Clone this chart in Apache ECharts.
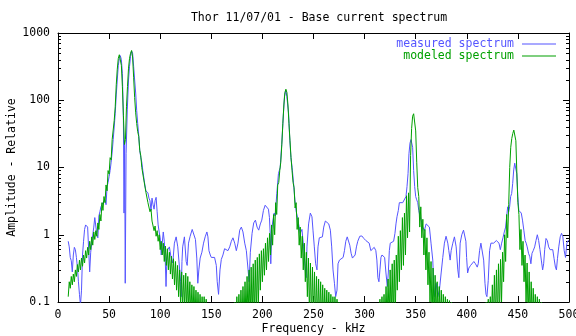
<!DOCTYPE html>
<html>
<head>
<meta charset="utf-8">
<title>Thor 11/07/01 - Base current spectrum</title>
<script src="https://cdn.jsdelivr.net/npm/echarts@6/dist/echarts.min.js"></script>
<style>
  html, body { margin: 0; padding: 0; background: #fff; }
  #chart { width: 576px; height: 336px; }
</style>
</head>
<body>
<div id="chart"></div>
<script>
// amplitude axis ticks (log scale)
const yTicks = [0.1, 1, 10, 100, 1000]
const yMinorTicks = [
  0.2, 0.3, 0.4, 0.5, 0.6, 0.7, 0.8, 0.9,
  2, 3, 4, 5, 6, 7, 8, 9,
  20, 30, 40, 50, 60, 70, 80, 90,
  200, 300, 400, 500, 600, 700, 800, 900
]

// measured spectrum, [kHz, amplitude]
const measured = [
  [10,0.8],[11,0.66],[12,0.46],[13,0.41],[14,0.28],[15,0.5],[16,0.65],[17,0.6],[18,0.46],[19,0.33],
  [20,0.2],[21,0.13],[22,0.09],[23,0.15],[24,0.5],[25,0.8],[26,1.2],[27,1.4],[28,1.4],[29,1.3],
  [30,0.6],[31,0.28],[32,0.55],[33,0.75],[34,0.8],[35,1.3],[36,1.8],[37,1.7],[38,1.0],[39,0.9],
  [40,1.9],[41,2.2],[42,2.6],[43,2.8],[44,3.0],[45,3.1],[46,3.3],[47,2.8],[48,5.2],[49,6],
  [50,7.3],[51,9],[52,12],[53,17],[54,26],[55,40],[56,64],[57,120],[58,200],[59,330],
  [60,420],[61,460],[62,400],[63,250],[64,50],[64.6,2.1],[65.2,25],[65.8,0.19],[66.6,16],[67.8,72],
  [69,200],[70,320],[71,450],[72,540],[73,500],[74,320],[75,200],[76,128],[77,70],[78,45],
  [79,30],[80,18],[81,14],[82,12],[83,9],[84,7],[85,5.5],[86,4.5],[87,4.8],[88,4.2],
  [89,3.5],[90,3.2],[91,2.3],[92,3.5],[93,2.8],[94,2.4],[95,3.2],[96,3.6],[97,2.2],[98,1.4],
  [99,1.1],[100,0.9],[101,0.5],[102,0.75],[103,1.1],[104,0.8],[105,0.4],[105.7,0.17],[106.5,0.4],[107.4,0.6],
  [109,0.66],[110.6,0.46],[112.3,0.38],[113.9,0.75],[115.6,0.93],[117.2,0.66],[118.8,0.63],[120,0.2],[120.5,0.12],[121.3,0.4],
  [122,0.66],[123.7,0.93],[125.4,0.4],[126.4,0.35],[127.7,0.75],[129.3,0.95],[131.3,1.2],[132.9,1.25],[134.5,0.85],[135.8,0.45],
  [136.8,0.19],[137.8,0.3],[139.1,0.45],[140.8,0.55],[142.4,0.75],[144,0.93],[145.7,1.1],[146.7,0.93],[147.7,0.58],[149,0.5],
  [150,0.46],[151.6,0.48],[153.2,0.46],[154.9,0.35],[155.8,0.2],[157.1,0.13],[158.5,0.3],[159.8,0.43],[161.4,0.5],[163,0.62],
  [164.7,0.6],[166.3,0.58],[168,0.66],[169.6,0.8],[171.2,0.9],[172.9,0.75],[174.5,0.58],[176.1,0.75],[177.8,1.17],[179.4,1.3],
  [181,1.1],[182.7,0.75],[184.3,0.58],[186,0.3],[187,0.2],[188.2,0.55],[189.9,1.05],[191.5,1.5],[193.2,1.65],[194.8,1.3],
  [196.4,1.17],[198,1.45],[199.4,1.65],[201,2.3],[202.7,2.75],[204.3,2.8],[205.9,2.4],[206.9,1.8],[207.6,1.05],[208.2,0.37],
  [209.2,1.2],[210.2,1.6],[211.5,2.1],[212.5,1.9],[214.1,4.1],[215.7,8.1],[217.4,10],[219,23],[220.6,64],[221.6,114],
  [222.9,140],[223.9,114],[225.6,64],[226.5,32],[227.9,14],[229.1,10],[230.5,5.8],[231.8,3.3],[233.1,2.2],[234.4,1.8],
  [235.4,1.45],[237,1.05],[238.7,1.2],[240.3,0.66],[242,0.3],[242.9,0.23],[243.6,0.66],[245.2,1.45],[246.9,2.1],[248.5,1.85],
  [249.5,1.17],[250.8,0.66],[252.1,0.37],[253.4,0.3],[254.4,0.66],[255.7,0.9],[257.3,0.85],[258.7,0.93],[260,1.3],[261.6,1.6],
  [263.2,1.6],[264.9,1.45],[266.5,1.17],[267.8,0.66],[269.1,0.3],[270.5,0.19],[271.7,0.12],[273,0.15],[274,0.37],[275.4,0.42],
  [277,0.44],[279,0.46],[280.3,0.58],[281.6,0.8],[283,0.93],[284.2,0.9],[285.5,0.7],[286.8,0.53],[288.1,0.45],[289.4,0.45],
  [290.7,0.5],[292,0.66],[293.3,0.8],[295.3,0.95],[297.3,0.96],[299.3,0.88],[301.2,0.82],[302.9,0.85],[304.5,0.75],[306.1,0.58],
  [307.8,0.55],[309.4,0.65],[311,0.58],[312,0.42],[313,0.23],[314,0.2],[315,0.3],[316,0.46],[317,0.5],[318.3,0.53],
  [319.6,0.46],[320.9,0.27],[322.2,0.17],[323.2,0.27],[324.2,0.58],[325.1,0.75],[326.8,0.75],[328.4,0.8],[329.7,1.05],[330.7,1.45],
  [331.7,1.85],[333,2.3],[334,3.0],[335.6,3.0],[337.3,3.0],[338.9,3.1],[340.5,3.7],[341.5,5.2],[342.5,8.1],[343.4,16],
  [344.4,23],[345.4,26],[346.4,26],[347,20],[348,9],[349,5.2],[350,3.7],[351,3.3],[352,3.0],[353,2.3],
  [354.3,1.85],[355.6,1.6],[356.9,1.3],[358.5,1.15],[360.2,1.45],[361.8,1.5],[363.4,1.3],[365,0.75],[366.7,0.42],[367.6,0.19],
  [368.6,0.12],[370,0.19],[371.6,0.12],[373.2,0.15],[374.9,0.27],[376.5,0.46],[378.1,0.75],[379.7,0.95],[381.4,0.75],[382.4,0.58],
  [383.7,0.42],[384.7,0.58],[386.3,0.75],[387.9,0.93],[389.6,0.66],[391.2,0.3],[392.2,0.23],[393.5,0.75],[395.1,1.0],[396.8,1.17],
  [398.1,1.1],[399.1,0.8],[399.8,0.46],[400.8,0.27],[402,0.32],[403.7,0.35],[405.3,0.37],[406.9,0.4],[408.5,0.37],[410.2,0.33],
  [411.2,0.37],[412.5,0.58],[413.8,0.75],[415.1,0.75],[416.5,0.42],[417.8,0.19],[418.8,0.13],[419.7,0.12],[421,0.21],[422.3,0.58],
  [423.6,0.75],[424.9,0.72],[426.3,0.75],[427.6,0.8],[428.9,0.82],[430.2,0.82],[431.5,0.75],[432.8,0.6],[434.1,0.75],[435.4,0.9],
  [436.7,1.1],[438,1.3],[439,1.85],[440,2.6],[441,2.2],[441.9,2.6],[442.9,3.7],[443.9,4.1],[444.9,5.8],[445.9,9.2],
  [446.9,11.6],[447.9,11],[448.9,8.1],[449.9,3.7],[450.9,2.3],[451.9,2.2],[453.3,2.1],[454.5,1.65],[455.8,1.17],[457.1,0.82],
  [458.1,0.75],[459.1,0.66],[460.4,0.53],[461.7,0.47],[462.7,0.37],[463.8,0.53],[465,0.58],[466.4,0.66],[467.7,0.82],[469,1.0],
  [470.3,0.82],[471.6,0.6],[472.9,0.42],[474.2,0.3],[475.2,0.37],[476.2,0.6],[477.5,0.88],[478.8,0.82],[480.1,0.66],[481.5,0.6],
  [482.8,0.62],[484.1,0.6],[485.4,0.44],[486.7,0.33],[487.7,0.3],[488.7,0.44],[490,0.66],[491.4,0.93],[492.7,1.05],[494,0.93],
  [495.3,0.58],[496.6,0.46],[497.9,0.75],[499.2,0.82],[500,0.82]
]

// modeled spectrum, one block per resonance; 0.05 = below the plot floor
const modeledLow = [
  [10,0.12],[11,0.2],[12,0.16],[13,0.24],[14,0.18],[15,0.26],[16,0.2],[17,0.3],[18,0.24],[19,0.36],
  [20,0.28],[21,0.42],[22,0.3],[23,0.45],[24,0.34],[25,0.5],[26,0.38],[27,0.58],[28,0.45],[29,0.65],
  [30,0.5],[31,0.8],[32,0.6],[33,0.93],[34,0.7],[35,1.1],[36,0.85],[37,1.15],[38,0.95],[39,1.5],
  [40,1.2],[41,2.0],[42,1.6],[43,3.0],[44,2.3],[45,3.7],[46,3.0],[47,5.5],[48,4.5],[49,9],
  [50,8],[51,14],[52,13],[53,26],[54,26],[55,50],[56,80],[57,170],[58,290],[59,420],
  [60,475],[61,460],[62,330],[63,160],[64,60],[65,22],[66,26],[67,80],[68,160],[69,300],
  [70,420],[71,500],[72,550],[73,440],[74,220],[75,110],[76,65],[77,45],[78,34],[79,29],
  [80,18],[81,15],[82,10],[83,9.5],[84,6.5],[85,6.5],[86,4.3],[87,4.5],[88,3.0],[89,3.2],
  [90,2.2],[91,2.4],[92,1.6],[93,1.7],[94,1.15],[95,1.35],[96,0.95],[97,1.15],[98,0.8],[99,1.0],
  [100,0.6],[101,0.8],[102,0.5],[103,0.75],[104,0.4],[105,0.68],[106,0.35],[107,0.62],[108,0.3],[109,0.55],
  [110,0.26],[111,0.48],[112,0.22],[113,0.44],[114,0.18],[115,0.4],[116,0.15],[117,0.35],[118,0.12],[119,0.3],
  [120,0.09],[121,0.28],[122,0.08],[123,0.25],[124,0.08],[125,0.27],[126,0.07],[127,0.24],[128,0.07],[129,0.2],
  [130,0.06],[131,0.18],[132,0.06],[133,0.17],[134,0.06],[135,0.15],[136,0.06],[137,0.14],[138,0.06],[139,0.13],
  [140,0.06],[141,0.12],[142,0.06],[143,0.12],[144,0.06],[145,0.11],[146,0.05]
]
const modeled222 = [
  [172,0.05],[173,0.1],[174,0.05],[175,0.12],[176,0.05],[177,0.13],[178,0.05],[179,0.15],[180,0.05],[181,0.17],
  [182,0.05],[183,0.2],[184,0.05],[185,0.24],[186,0.05],[187,0.3],[188,0.05],[189,0.33],[190,0.05],[191,0.37],
  [192,0.05],[193,0.42],[194,0.06],[195,0.46],[196,0.08],[197,0.52],[198,0.15],[199,0.58],[200,0.2],[201,0.62],
  [202,0.25],[203,0.75],[204,0.3],[205,0.9],[206,0.4],[207,1.05],[208,0.5],[209,1.4],[210,0.7],[211,2.0],
  [212,1.0],[213,3.0],[214,2.0],[215,5.5],[216,6],[217,9],[218,12],[219,22],[220,45],[221,85],
  [222,130],[223,146],[224,130],[225,85],[226,45],[227,25],[228,14],[229,9],[230,6],[231,5],
  [232,2.5],[233,3],[234,1.2],[235,1.8],[236,0.7],[237,1.3],[238,0.45],[239,0.95],[240,0.3],[241,0.75],
  [242,0.2],[243,0.55],[244,0.12],[245,0.45],[246,0.07],[247,0.38],[248,0.05],[249,0.33],[250,0.05],[251,0.28],
  [252,0.05],[253,0.24],[254,0.05],[255,0.22],[256,0.05],[257,0.2],[258,0.05],[259,0.18],[260,0.05],[261,0.16],
  [262,0.05],[263,0.15],[264,0.05],[265,0.14],[266,0.05],[267,0.13],[268,0.05],[269,0.12],[270,0.05],[271,0.12],
  [272,0.05],[273,0.11],[274,0.05],[275,0.1],[276,0.05]
]
const modeled347 = [
  [313,0.05],[314,0.05],[315,0.11],[316,0.05],[317,0.12],[318,0.05],[319,0.13],[320,0.05],[321,0.17],[322,0.05],
  [323,0.22],[324,0.05],[325,0.3],[326,0.05],[327,0.37],[328,0.05],[329,0.42],[330,0.06],[331,0.5],[332,0.15],
  [333,0.95],[334,0.2],[335,1.15],[336,0.3],[337,1.8],[338,0.35],[339,2.1],[340,0.5],[341,3.8],[342,0.9],
  [343,4.2],[344,1.1],[345,15],[346,38],[347,58],[348,63],[349,60],[350,35],[351,12],[352,5],
  [353,3.7],[354,1.3],[355,2.6],[356,0.9],[357,1.7],[358,0.5],[359,1.2],[360,0.3],[361,0.9],[362,0.18],
  [363,0.55],[364,0.1],[365,0.4],[366,0.05],[367,0.32],[368,0.05],[369,0.25],[370,0.05],[371,0.2],[372,0.05],
  [373,0.17],[374,0.05],[375,0.15],[376,0.05],[377,0.13],[378,0.05],[379,0.12],[380,0.05],[381,0.11],[382,0.05],
  [383,0.105],[384,0.05],[385,0.1],[386,0.05]
]
const modeled446 = [
  [418,0.05],[419,0.1],[420,0.05],[421,0.11],[422,0.05],[423,0.12],[424,0.05],[425,0.18],[426,0.05],[427,0.25],
  [428,0.05],[429,0.3],[430,0.05],[431,0.37],[432,0.06],[433,0.43],[434,0.1],[435,0.55],[436,0.2],[437,1.0],
  [438,0.4],[439,2.0],[440,0.9],[441,2.8],[442,10],[443,20],[444,27],[445,32],[446,36],[447,36],
  [448,25],[449,8],[450,3],[451,2.0],[452,0.6],[453,1.2],[454,0.35],[455,0.8],[456,0.2],[457,0.5],
  [458,0.1],[459,0.38],[460,0.05],[461,0.28],[462,0.05],[463,0.2],[464,0.05],[465,0.16],[466,0.05],[467,0.13],
  [468,0.05],[469,0.12],[470,0.05],[471,0.11],[472,0.05],[473,0.1],[474,0.05]
]

const BLUE = '#5555ff'
const GREEN = '#00a000'
const FONT = 'DejaVu Sans Mono'

const chart = echarts.init(document.getElementById('chart'), null, { renderer: 'canvas' })

const logAxis = (extra) => Object.assign({
  type: 'log',
  logBase: 10,
  min: 0.1,
  max: 1000,
  splitLine: { show: false },
  axisLabel: { show: false },
  axisLine: { show: false },
  axisTick: { show: false }
}, extra)

const fmt = v => String(+v.toPrecision(4))

chart.setOption({
  animation: false,
  title: {
    text: 'Thor 11/07/01 - Base current spectrum',
    left: 314,
    top: 7,
    textAlign: 'center',
    textStyle: { fontFamily: FONT, fontSize: 11.5, fontWeight: 'normal', color: '#000' }
  },
  legend: {
    orient: 'vertical',
    right: 20,
    top: 38,
    padding: 0,
    align: 'right',
    icon: 'rect',
    itemWidth: 34,
    itemHeight: 1,
    itemGap: 0,
    textStyle: { fontFamily: FONT, fontSize: 11.5, lineHeight: 11, padding: [0, 3, 0, 0] },
    data: [
      { name: 'measured spectrum', textStyle: { color: BLUE } },
      { name: 'modeled spectrum', textStyle: { color: GREEN } }
    ]
  },
  grid: { left: 58, right: 7, top: 33, bottom: 34, outerBoundsMode: 'none', containLabel: false },
  xAxis: [
    {
      type: 'value',
      min: 0,
      max: 500,
      interval: 50,
      position: 'bottom',
      name: 'Frequency - kHz',
      nameLocation: 'middle',
      nameGap: 21,
      nameMoveOverlap: false,
      nameTextStyle: { fontFamily: FONT, fontSize: 11.5, color: '#000' },
      axisLine: { lineStyle: { color: '#000', width: 1 } },
      axisTick: { inside: true, length: 6, lineStyle: { color: '#000' } },
      axisLabel: { fontFamily: FONT, fontSize: 11.5, color: '#000', margin: 7 },
      splitLine: { show: false }
    },
    {
      type: 'value',
      min: 0,
      max: 500,
      interval: 50,
      position: 'top',
      axisLine: { lineStyle: { color: '#000', width: 1 } },
      axisTick: { inside: true, length: 6, lineStyle: { color: '#000' } },
      axisLabel: { show: false },
      splitLine: { show: false }
    }
  ],
  yAxis: [
    logAxis({
      position: 'left',
      name: 'Amplitude - Relative',
      nameLocation: 'middle',
      nameRotate: 90,
      nameGap: 40,
      nameMoveOverlap: false,
      nameTextStyle: { fontFamily: FONT, fontSize: 11.5, color: '#000' },
      axisLine: { show: true, lineStyle: { color: '#000', width: 1 } },
      axisTick: { show: true, inside: true, length: 6, customValues: yTicks, lineStyle: { color: '#000' } },
      axisLabel: { show: true, customValues: yTicks, formatter: fmt, fontFamily: FONT, fontSize: 11.5, color: '#000', margin: 8 }
    }),
    logAxis({
      position: 'left',
      axisTick: { show: true, inside: true, length: 3, customValues: yMinorTicks, lineStyle: { color: '#000' } }
    }),
    logAxis({
      position: 'right',
      axisLine: { show: true, lineStyle: { color: '#000', width: 1 } },
      axisTick: { show: true, inside: true, length: 6, customValues: yTicks, lineStyle: { color: '#000' } }
    }),
    logAxis({
      position: 'right',
      axisTick: { show: true, inside: true, length: 3, customValues: yMinorTicks, lineStyle: { color: '#000' } }
    })
  ],
  series: [
    {
      name: 'measured spectrum',
      type: 'line',
      data: measured,
      symbol: 'none',
      clip: true,
      lineStyle: { color: BLUE, width: 1 },
      itemStyle: { color: BLUE }
    },
    {
      name: 'modeled spectrum',
      type: 'line',
      data: modeledLow.concat(modeled222, modeled347, modeled446),
      symbol: 'none',
      clip: true,
      lineStyle: { color: GREEN, width: 1 },
      itemStyle: { color: GREEN }
    }
  ]
})
</script>
</body>
</html>
